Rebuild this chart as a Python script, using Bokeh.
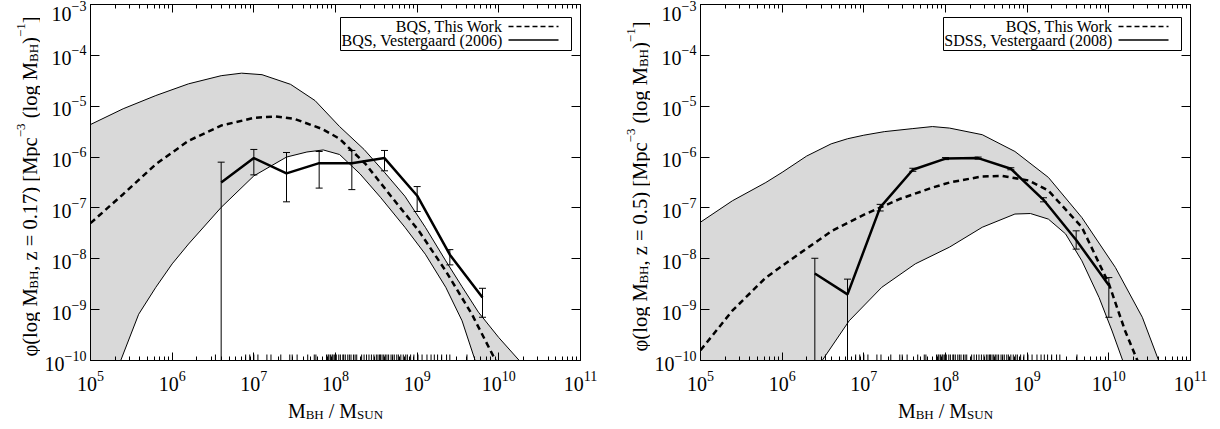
import numpy as np
from math import pi
from bokeh.plotting import figure
from bokeh.layouts import row, column
from bokeh.models import (LogAxis, FixedTicker, CustomJSTickFormatter, LogTickFormatter, Label,
                          BoxAnnotation, Arrow, Range1d)
from bokeh.embed import file_html
from bokeh.resources import INLINE

FONT = "Liberation Serif"

# ---------------- data (log10 of M_BH/M_sun and log10 of phi) ----------------
x_tick_exponents = [5, 6, 7, 8, 9, 10, 11]
y_tick_exponents = [-10, -9, -8, -7, -6, -5, -4, -3]

# Left panel, z = 0.17
L_z = "0.17"
L_legend = ["BQS, This Work", "BQS, Vestergaard (2006)"]
L_up_logM = [5.0, 5.4, 5.8, 6.2, 6.6, 6.85, 7.1, 7.45, 7.75, 8.05, 8.35, 8.6, 8.85, 9.1, 9.35, 9.55, 9.75, 10.0, 10.25]
L_up_logphi = [-5.36, -5.05, -4.79, -4.56, -4.40, -4.35, -4.38, -4.57, -4.89, -5.40, -5.85, -6.30, -6.77, -7.38, -8.04, -8.55, -9.05, -9.55, -10.0]
L_low_logM = [5.0, 5.37, 5.59, 5.8, 6.0, 6.2, 6.6, 7.0, 7.4, 7.65, 7.85, 8.05, 8.3, 8.55, 8.85, 9.1, 9.35, 9.55, 9.71]
L_low_logphi = [-12.5, -10.0, -9.09, -8.56, -8.10, -7.71, -6.99, -6.37, -6.0, -5.9, -5.86, -5.95, -6.33, -6.79, -7.38, -7.91, -8.56, -9.22, -10.0]
L_model_logM = [5.0, 5.4, 5.8, 6.2, 6.6, 7.0, 7.27, 7.5, 7.84, 8.05, 8.37, 8.69, 9.02, 9.35, 9.67, 9.96]
L_model_logphi = [-7.30, -6.73, -6.14, -5.68, -5.38, -5.23, -5.20, -5.25, -5.45, -5.64, -6.14, -6.79, -7.45, -8.24, -9.09, -10.0]
L_obs_logM = [6.6, 7.0, 7.4, 7.8, 8.2, 8.6, 9.0, 9.4, 9.8]
L_obs_logphi = [-6.50, -6.02, -6.32, -6.12, -6.12, -6.02, -6.76, -7.92, -8.76]
L_obs_hi = [-6.10, -5.85, -5.91, -5.89, -5.87, -5.87, -6.58, -7.82, -8.58]
L_obs_lo = [None, -6.35, -6.88, -6.61, -6.64, -6.27, -7.07, -8.12, -9.15]   # None: consistent with zero

# Right panel, z = 0.5
R_z = "0.5"
R_legend = ["BQS, This Work", "SDSS, Vestergaard (2008)"]
R_up_logM = [5.0, 5.39, 5.8, 6.0, 6.3, 6.6, 6.8, 7.0, 7.25, 7.6, 7.84, 8.05, 8.45, 8.85, 9.26, 9.67, 10.08, 10.41, 10.61]
R_up_logphi = [-7.28, -6.86, -6.50, -6.30, -5.98, -5.74, -5.64, -5.57, -5.50, -5.44, -5.40, -5.43, -5.56, -5.89, -6.40, -7.19, -8.17, -9.15, -10.0]
R_low_logM = [5.0, 6.49, 6.82, 7.22, 7.63, 8.05, 8.45, 8.85, 9.04, 9.26, 9.47, 9.67, 9.88, 10.04, 10.17]
R_low_logphi = [-13.5, -10.0, -9.22, -8.56, -8.10, -7.77, -7.38, -7.12, -7.11, -7.22, -7.51, -8.04, -8.76, -9.42, -10.0]
R_model_logM = [5.0, 5.39, 5.8, 6.2, 6.61, 7.02, 7.43, 7.84, 8.05, 8.45, 8.69, 9.02, 9.26, 9.67, 10.0, 10.2, 10.35]
R_model_logphi = [-9.80, -9.02, -8.37, -7.91, -7.45, -7.12, -6.83, -6.60, -6.50, -6.38, -6.37, -6.46, -6.66, -7.38, -8.49, -9.42, -10.0]
R_obs_logM = [6.4, 6.8, 7.2, 7.6, 8.0, 8.4, 8.8, 9.2, 9.6, 10.0]
R_obs_logphi = [-8.29, -8.70, -6.99, -6.25, -6.03, -6.02, -6.23, -6.84, -7.63, -8.52]
R_obs_hi = [-7.99, -8.40, -6.93, -6.22, -6.01, -6.00, -6.21, -6.80, -7.45, -8.37]
R_obs_lo = [None, None, -7.06, -6.28, -6.05, -6.04, -6.25, -6.88, -7.81, -9.15]

# Individual BQS black-hole masses (rug along the bottom, same in both panels)
rug_logM = [6.53, 6.90, 6.95, 7.00, 7.05, 7.16, 7.21, 7.33, 7.44, 7.47, 7.53, 7.66, 7.74, 7.76,
            7.89, 7.91, 7.92, 7.94, 7.96, 7.97, 7.99, 8.01, 8.04, 8.06, 8.09, 8.10, 8.12, 8.15,
            8.17, 8.19, 8.22, 8.24, 8.26, 8.32, 8.35, 8.38, 8.41, 8.44, 8.47, 8.50, 8.52, 8.54,
            8.55, 8.57, 8.59, 8.61, 8.63, 8.65, 8.68, 8.70, 8.72, 8.75, 8.77, 8.80, 8.83, 8.86,
            8.88, 8.92, 8.96, 9.01, 9.06, 9.12, 9.17, 9.21, 9.25, 9.30, 9.36, 9.40, 9.61]

# ---------------- style / layout ----------------
BAND = "#d9d9d9"
YT_W = 40            # width of the strip holding the rotated y title
XT_H = 34            # height of the strip holding the x title
PANEL_W, PANEL_H = 610, 429

W = {' ': 250, '(': 333, ')': 333, '[': 333, ']': 333, ',': 250, '.': 250, '/': 278,
     '=': 564, '\u2212': 564, 'l': 278, 'o': 500, 'g': 500, 'z': 444, 'p': 500, 'c': 444,
     'M': 889, 'B': 667, 'H': 722, 'S': 556, 'U': 722, 'N': 722, '\u03c6': 560}
for d in "0123456789":
    W[d] = 500


def text_w(s, size):
    return sum(W.get(c, 500) for c in s) * size / 1000.0


def rich_label(p, pieces, x0, y0, rotated, size_main=20, size_small=13):
    sizes = {"n": size_main, "sub": size_small, "sup": size_small}
    shifts = {"n": 0.0, "sub": -0.2 * size_main, "sup": 0.42 * size_main}
    total = sum(text_w(t, sizes[k]) for t, k in pieces)
    pos = -total / 2.0
    for t, k in pieces:
        sz = sizes[k]
        lead = len(t) - len(t.lstrip(" "))
        pos += text_w(" " * lead, sz)
        body = t.strip(" ")
        if rotated:
            x, y, ang = x0 - shifts[k], y0 + pos, pi / 2
        else:
            x, y, ang = x0 + pos, y0 + shifts[k], 0.0
        p.add_layout(Label(x=x, y=y, x_units="screen", y_units="screen", text=body, angle=ang,
                           text_font=FONT, text_font_size=f"{sz}px", text_color="black",
                           text_align="left", text_baseline="alphabetic"))
        pos += text_w(t.lstrip(" "), sz)


def blank_fig(w, h):
    f = figure(width=w, height=h, x_range=Range1d(0, 1), y_range=Range1d(0, 1),
               x_axis_location=None, y_axis_location=None, output_backend="svg",
               toolbar_location=None, min_border=0, frame_align=False)
    f.grid.visible = False
    f.outline_line_color = None
    f.background_fill_color = "white"
    f.border_fill_color = "white"
    return f


def style_axis(ax, ticker, major_in, minor_in, labels, standoff):
    ax.ticker = ticker
    if labels:
        ax.formatter = LogTickFormatter()
        ax.major_label_text_font_size = "20px"
    else:
        ax.formatter = CustomJSTickFormatter(code="return '';")
        ax.major_label_text_font_size = "0px"
    ax.major_label_text_font = FONT
    ax.major_label_text_color = "black"
    ax.major_label_standoff = standoff
    ax.major_tick_in = major_in
    ax.major_tick_out = 0
    ax.minor_tick_in = minor_in
    ax.minor_tick_out = 0
    ax.axis_line_color = "black"
    ax.major_tick_line_color = "black"
    ax.minor_tick_line_color = "black" if minor_in else None
    ax.axis_label = None


def make_panel(z, legend, up_m, up_p, lo_m, lo_p, mod_m, mod_p, obs_m, obs_p, obs_hi, obs_lo, box_left):
    ybot = 10.0 ** y_tick_exponents[0]
    p = figure(width=PANEL_W - YT_W, height=PANEL_H - XT_H, x_axis_type="log", y_axis_type="log",
               x_range=Range1d(10.0 ** x_tick_exponents[0], 10.0 ** x_tick_exponents[-1]),
               y_range=Range1d(ybot, 10.0 ** y_tick_exponents[-1]),
               output_backend="svg", toolbar_location=None, frame_align=False,
               min_border_left=90 - YT_W, min_border_right=30, min_border_top=4,
               min_border_bottom=69 - XT_H)
    p.grid.visible = False
    p.outline_line_color = "black"
    p.outline_line_width = 1
    p.background_fill_color = "white"
    p.border_fill_color = "white"

    xmaj = [10.0 ** e for e in x_tick_exponents]
    xmin = [k * 10.0 ** e for e in x_tick_exponents[:-1] for k in range(2, 10)]
    ymaj = [10.0 ** e for e in y_tick_exponents]

    style_axis(p.xaxis[0], FixedTicker(ticks=xmaj, minor_ticks=xmin), 8, 4, True, 10)
    style_axis(p.yaxis[0], FixedTicker(ticks=ymaj, minor_ticks=[]), 9, 0, True, 4)
    top = LogAxis()
    style_axis(top, FixedTicker(ticks=xmaj, minor_ticks=xmin), 8, 4, False, 0)
    p.add_layout(top, "above")
    right = LogAxis()
    style_axis(right, FixedTicker(ticks=ymaj, minor_ticks=[]), 9, 0, False, 0)
    p.add_layout(right, "right")

    # band between the envelopes
    up_x = list(np.power(10.0, up_m)); up_y = list(np.power(10.0, up_p))
    lo_x = list(np.power(10.0, lo_m)); lo_y = list(np.power(10.0, lo_p))
    p.patch(up_x + lo_x[::-1], up_y + lo_y[::-1], fill_color=BAND, line_color=None)
    p.line(up_x, up_y, line_color="black", line_width=1)
    p.line(lo_x, lo_y, line_color="black", line_width=1)

    # model (dashed)
    p.line(np.power(10.0, mod_m), np.power(10.0, mod_p), line_color="black",
           line_width=2.5, line_dash="6 4")

    # observed mass function with error bars
    ox = np.power(10.0, obs_m)
    p.line(ox, np.power(10.0, obs_p), line_color="black", line_width=2.5)
    hi = np.power(10.0, obs_hi)
    lo = np.array([10.0 ** v if v is not None else ybot for v in obs_lo])
    p.segment(x0=ox, y0=lo, x1=ox, y1=hi, line_color="black", line_width=1)
    p.scatter(ox, hi, marker="dash", size=7, line_color="black", line_width=1)
    has_lo = [v is not None for v in obs_lo]
    p.scatter(ox[has_lo], lo[has_lo], marker="dash", size=7, line_color="black", line_width=1)

    # rug of individual masses
    rx = np.power(10.0, rug_logM)
    p.scatter(rx, np.full(len(rx), ybot), marker="dash", angle=pi / 2, size=12,
              line_color="black", line_width=1)

    # legend (text left of the line sample, as in the original)
    p.add_layout(BoxAnnotation(left=box_left, right=481, top=343, bottom=310,
                               left_units="screen", right_units="screen",
                               top_units="screen", bottom_units="screen",
                               fill_color="white", fill_alpha=1.0, line_color="black",
                               line_width=1, line_alpha=1.0))
    rows_y = [334, 320.5]
    dashes = ["5 3", "solid"]
    for txt, yy, dash in zip(legend, rows_y, dashes):
        p.add_layout(Label(x=412, y=yy, x_units="screen", y_units="screen", text=txt,
                           text_align="right", text_baseline="middle", text_font=FONT,
                           text_font_size="16px", text_color="black"))
        p.add_layout(Arrow(end=None, x_start=418, y_start=yy, x_end=468, y_end=yy,
                           start_units="screen", end_units="screen",
                           line_color="black", line_width=1.5, line_dash=dash))

    # x title strip (below the plot)
    xt = blank_fig(PANEL_W - YT_W, XT_H)
    rich_label(xt, [("M", "n"), ("BH", "sub"), (" / M", "n"), ("SUN", "sub")],
               335 - YT_W, PANEL_H - 410, rotated=False)

    # y title strip (left of the plot)
    yt = blank_fig(YT_W, PANEL_H)
    rich_label(yt, [("\u03c6(log M", "n"), ("BH", "sub"), (f", z = {z}) [Mpc", "n"),
                    ("\u22123", "sup"), (" (log M", "n"), ("BH", "sub"), (")", "n"),
                    ("\u22121", "sup"), ("]", "n")],
               29, PANEL_H - 186, rotated=True, size_main=20.5, size_small=13)
    return row(yt, column(p, xt, spacing=0), spacing=0)


p1 = make_panel(L_z, L_legend, L_up_logM, L_up_logphi, L_low_logM, L_low_logphi,
                L_model_logM, L_model_logphi, L_obs_logM, L_obs_logphi, L_obs_hi, L_obs_lo, 250)
p2 = make_panel(R_z, R_legend, R_up_logM, R_up_logphi, R_low_logM, R_low_logphi,
                R_model_logM, R_model_logphi, R_obs_logM, R_obs_logphi, R_obs_hi, R_obs_lo, 243)

layout = row(p1, p2, spacing=0)
open("out.html", "w").write(file_html(layout, INLINE))
